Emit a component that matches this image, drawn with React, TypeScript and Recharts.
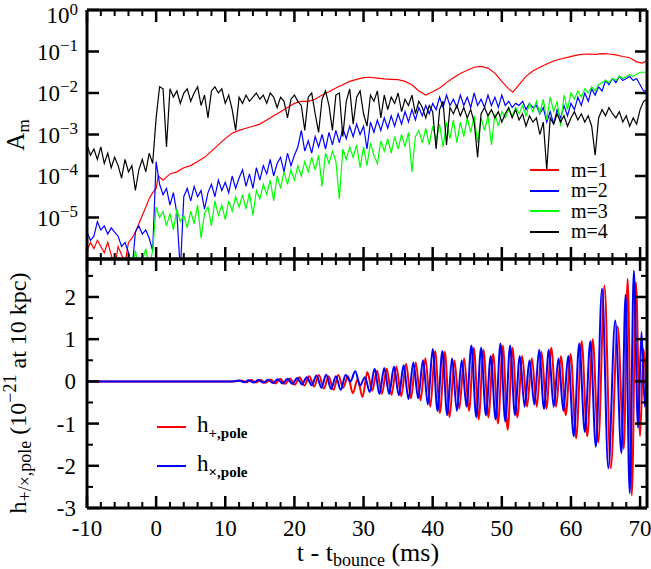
import React from "react";
import {LineChart, Line, XAxis, YAxis, Legend} from "recharts";

const FONT = "'Liberation Serif', 'DejaVu Serif', serif";

const T_START = -10;
const T_STEP = 0.5;

// log10 A_m, one row per 5 ms (10 samples), last row t = 70 .. 71
const logA2 = [
	-5.35, -5.55, -5.45, -5.1, -5.3, -5.2, -5.4, -5.25, -5.35, -5.45,
	-5.7, -5.6, -5.85, -6.3, -5.35, -5.2, -5.4, -5.3, -5.5, -5.8,
	-3.65, -4.2, -4.45, -4.3, -4.7, -4.4, -4.9, -6.3, -4.5, -4.3,
	-4.6, -4.25, -4.5, -4.35, -4.8, -4.4, -4.2, -4.5, -4.1, -4.35,
	-4.15, -4.4, -4.0, -4.3, -4.05, -3.85, -4.25, -3.95, -4.3, -3.8,
	-4.1, -3.75, -3.95, -3.6, -4.0, -3.7, -3.55, -3.9, -3.45, -3.75,
	-3.5, -3.3, -2.9, -3.4, -3.15, -3.45, -3.05, -3.3, -3.0, -3.35,
	-2.95, -3.25, -2.9, -3.2, -2.85, -3.1, -2.8, -3.05, -2.75, -3.0,
	-2.8, -3.35, -2.7, -2.95, -2.65, -2.9, -2.6, -2.85, -2.55, -2.8,
	-2.5, -2.75, -2.45, -2.7, -2.4, -2.65, -2.35, -2.55, -2.3, -2.5,
	-2.25, -2.4, -2.1, -2.35, -2.05, -2.3, -2.15, -2.35, -2.05, -2.3,
	-2.1, -2.35, -2.0, -2.3, -2.15, -2.35, -2.05, -2.3, -2.1, -2.35,
	-2.05, -2.3, -2.2, -2.35, -2.25, -2.3, -2.2, -2.4, -2.25, -2.35,
	-2.3, -2.5, -2.35, -2.7, -2.45, -2.75, -2.4, -2.6, -2.3, -2.55,
	-2.25, -2.4, -2.1, -2.3, -2.0, -2.2, -1.9, -2.05, -1.85, -1.95,
	-1.7, -1.8, -1.65, -1.75, -1.6, -1.7, -1.65, -1.6, -1.7, -1.65,
	-1.8, -1.95, -1.95,
];

const logA3 = [
	-6.3, -6.3, -6.0, -6.3, -6.3, -6.05, -6.3, -6.3, -6.3, -6.0,
	-6.3, -6.3, -6.0, -6.3, -5.8, -6.3, -6.05, -5.75, -6.2, -5.8,
	-4.75, -5.0, -4.85, -5.2, -4.9, -5.3, -4.8, -5.1, -4.95, -5.25,
	-4.85, -5.15, -4.7, -5.5, -4.9, -4.75, -5.2, -4.6, -4.95, -4.7,
	-5.05, -4.6, -4.85, -4.5, -4.75, -4.45, -4.8, -4.4, -4.95, -4.35,
	-4.55, -4.2, -4.45, -4.1, -4.6, -4.0, -4.3, -3.9, -4.2, -3.85,
	-4.1, -3.75, -4.0, -3.65, -3.9, -3.55, -3.85, -3.5, -4.25, -3.45,
	-3.7, -3.4, -3.65, -4.55, -3.35, -3.6, -3.3, -3.55, -3.25, -3.8,
	-3.3, -3.75, -3.2, -3.5, -3.7, -3.15, -3.4, -3.1, -3.45, -3.05,
	-3.35, -3.0, -3.3, -2.95, -3.9, -3.05, -2.9, -3.2, -2.85, -3.25,
	-2.8, -3.15, -2.75, -3.3, -2.7, -3.1, -2.65, -3.2, -2.7, -3.05,
	-2.6, -2.95, -2.55, -3.2, -2.6, -2.9, -2.55, -3.25, -2.5, -2.8,
	-2.45, -2.6, -2.4, -2.55, -2.35, -2.5, -2.3, -2.55, -2.25, -2.45,
	-2.2, -2.5, -2.15, -2.65, -2.1, -2.45, -2.2, -2.8, -2.05, -2.4,
	-2.0, -2.15, -1.95, -2.1, -1.9, -2.0, -1.85, -1.95, -1.8, -1.75,
	-1.7, -1.75, -1.65, -1.7, -1.6, -1.65, -1.6, -1.55, -1.6, -1.55,
	-1.5, -1.5, -1.5,
];

const logA4 = [
	-3.25, -3.5, -3.35, -3.6, -3.3, -3.7, -3.45, -3.8, -3.55, -3.75,
	-4.05, -3.6, -3.9, -3.75, -4.35, -3.85, -3.6, -3.9, -3.45, -3.7,
	-2.6, -1.85, -1.9, -3.3, -1.9, -2.1, -1.95, -2.25, -2.0, -1.9,
	-2.2, -2.0, -1.85, -2.3, -2.05, -2.6, -1.95, -1.85, -2.0, -1.9,
	-2.25, -2.05, -2.4, -2.9, -2.1, -2.25, -2.05, -2.2, -2.1, -2.0,
	-2.15, -2.05, -2.25, -2.0, -2.1, -2.35, -2.1, -2.2, -2.6, -2.15,
	-2.05, -2.2, -2.3, -2.9, -2.1, -2.0, -2.5, -2.95, -2.15, -1.95,
	-2.3, -2.9, -2.05, -2.0, -3.05, -2.2, -1.9, -2.75, -2.1, -1.95,
	-2.5, -2.8, -2.05, -2.2, -1.95, -2.6, -2.05, -2.4, -2.1, -2.25,
	-2.0, -2.45, -2.15, -2.3, -2.05, -2.5, -2.2, -2.35, -2.6, -2.3,
	-2.45, -3.35, -2.4, -2.2, -3.25, -2.35, -2.5, -2.3, -2.55, -2.35,
	-2.6, -2.4, -2.7, -3.55, -2.5, -2.35, -2.55, -2.4, -2.6, -2.45,
	-2.7, -2.5, -2.35, -2.6, -2.4, -2.65, -2.5, -2.8, -2.55, -2.7,
	-2.6, -3.0, -2.7, -3.85, -2.6, -2.75, -2.5, -2.7, -2.55, -2.8,
	-2.6, -2.45, -2.65, -2.5, -2.7, -2.55, -2.8, -3.5, -2.6, -2.4,
	-2.55, -2.35, -2.5, -2.6, -2.45, -2.7, -2.55, -2.8, -2.6, -2.75,
	-2.4, -2.2, -2.15,
];

// m=1 is smooth, read at its own times: [t, log10 A_1]
const logA1 = [
	[-10, -5.8], [-9.5, -5.6], [-9, -5.75], [-8.5, -5.55], [-8, -5.7], [-7.5, -5.85], [-7, -5.6],
	[-6.5, -5.9], [-6, -6.2], [-5.5, -5.7], [-5, -5.9], [-4.5, -6.1], [-4, -5.6], [-3.5, -5.5],
	[-3, -5.35], [-2.5, -5.15], [-2, -4.95], [-1.5, -4.75], [-1, -4.55], [-0.5, -4.4], [0, -4.3],
	[0.3, -4.0], [1, -4.1], [2, -3.95], [3, -3.9], [4, -3.8], [5, -3.75], [6, -3.65], [7, -3.55],
	[8, -3.4], [9, -3.25], [10, -3.1], [11, -2.97], [12, -2.9], [13, -2.85], [14, -2.8], [15, -2.75],
	[16, -2.65], [17, -2.55], [18, -2.45], [19, -2.35], [20, -2.25], [21, -2.2], [22, -2.2],
	[23, -2.15], [24, -2.05], [25, -1.97], [26, -1.88], [27, -1.8], [28, -1.72], [29, -1.67],
	[30, -1.63], [31, -1.62], [32, -1.64], [33, -1.66], [34, -1.67], [35, -1.68], [36, -1.72],
	[37, -1.8], [38, -1.95], [39, -2.05], [40, -1.97], [41, -1.88], [42, -1.75], [43, -1.63],
	[44, -1.53], [45, -1.45], [46, -1.38], [47, -1.36], [48, -1.4], [49, -1.52], [50, -1.72],
	[51, -1.9], [51.6, -1.98], [52.5, -1.8], [53.5, -1.6], [54.5, -1.47], [55.5, -1.38],
	[56.5, -1.3], [57.5, -1.23], [58.5, -1.18], [59.5, -1.14], [60.5, -1.1], [61.5, -1.07],
	[62.5, -1.06], [63.5, -1.07], [64.5, -1.05], [65.5, -1.06], [66.5, -1.08], [67.5, -1.12],
	[68.5, -1.15], [69.5, -1.25], [70.3, -1.28], [71, -1.22],
];

// strain at the pole, extrema: [t, h / 1e-21]
const hPlus = [
	[-10, 0], [11.3, 0], [12.35, 0.02], [13.05, -0.02], [13.75, 0.03], [14.45, -0.025],
	[15.15, 0.035], [15.85, -0.035], [16.55, 0.045], [17.25, -0.05], [17.95, 0.06], [18.65, -0.06],
	[19.35, 0.07], [20.05, -0.08], [20.75, 0.1], [21.45, -0.1], [22.15, 0.12], [22.85, -0.12],
	[23.55, 0.15], [24.25, -0.17], [24.95, 0.12], [25.65, -0.2], [26.35, 0.15], [27.05, -0.15],
	[27.75, 0.12], [28.45, -0.28], [29.15, 0.05], [29.85, -0.37], [30.55, 0.22], [31.25, -0.22],
	[31.95, 0.25], [32.65, -0.3], [33.35, 0.3], [34.05, -0.32], [34.75, 0.35], [35.45, -0.35],
	[36.15, 0.42], [36.85, -0.4], [37.55, 0.45], [38.25, -0.45], [38.95, 0.55], [39.65, -0.6],
	[40.35, 0.72], [41.05, -0.75], [41.75, 0.7], [42.45, -0.85], [43.15, 0.5], [43.85, -0.65],
	[44.55, 0.55], [45.25, -0.7], [45.95, 0.8], [46.65, -0.9], [47.35, 0.75], [48.05, -0.85],
	[48.75, 0.65], [49.45, -1.0], [50.15, 0.85], [50.85, -1.15], [51.55, 0.8], [52.25, -0.85],
	[52.95, 0.6], [53.65, -0.6], [54.35, 0.55], [55.05, -0.6], [55.75, 0.7], [56.45, -0.65],
	[57.15, 0.8], [57.85, -0.6], [58.55, 0.6], [59.25, -0.8], [59.95, 0.65], [60.75, -1.35],
	[61.55, 0.95], [62.35, -1.3], [63.15, 1.0], [63.95, -1.45], [64.85, 2.27], [65.75, -2.06],
	[66.75, 1.3], [67.65, -1.6], [68.2, 2.43], [68.8, -2.7], [69.4, 2.35], [70.0, -1.3],
	[70.5, 0.77], [71.0, -1.0],
];

const hCross = [
	[-10, 0], [11, 0], [12.0, 0.02], [12.7, -0.02], [13.4, 0.025], [14.1, -0.025], [14.8, 0.03],
	[15.5, -0.03], [16.2, 0.04], [16.9, -0.04], [17.6, 0.05], [18.3, -0.05], [19.0, 0.06],
	[19.7, -0.06], [20.4, 0.08], [21.1, -0.07], [21.8, 0.1], [22.5, -0.09], [23.2, 0.14],
	[23.9, -0.15], [24.6, 0.16], [25.3, -0.18], [26.0, 0.12], [26.7, -0.2], [27.4, 0.15],
	[28.1, 0.0], [28.8, 0.24], [29.5, -0.1], [30.2, 0.1], [30.9, -0.25], [31.6, 0.3], [32.3, -0.3],
	[33.0, 0.32], [33.7, -0.3], [34.4, 0.35], [35.1, -0.33], [35.8, 0.38], [36.5, -0.42],
	[37.2, 0.45], [37.9, -0.4], [38.6, 0.5], [39.3, -0.55], [40.0, 0.77], [40.7, -0.7],
	[41.4, 0.72], [42.1, -0.8], [42.8, 0.55], [43.5, -0.7], [44.2, 0.5], [44.9, -0.6],
	[45.6, 0.85], [46.3, -0.85], [47.0, 0.8], [47.7, -0.8], [48.4, 0.6], [49.1, -0.9],
	[49.8, 0.9], [50.5, -0.95], [51.2, 0.85], [51.9, -0.8], [52.6, 0.6], [53.3, -0.6],
	[54.0, 0.5], [54.7, -0.55], [55.4, 0.75], [56.1, -0.65], [56.8, 0.75], [57.5, -0.6],
	[58.2, 0.55], [58.9, -0.7], [59.6, 0.6], [60.4, -1.3], [61.2, 0.9], [62.0, -1.2],
	[62.8, 0.95], [63.6, -1.55], [64.5, 2.2], [65.4, -2.06], [66.4, 1.44], [67.3, -1.7],
	[67.9, 2.05], [68.5, -2.65], [69.1, 2.62], [69.7, -1.1], [70.2, 1.17], [70.7, -0.6],
	[71.0, 0.0],
];

const xTicks = [-10, -8, -6, -4, -2, 0, 2, 4, 6, 8, 10, 12, 14, 16, 18, 20, 22, 24, 26, 28, 30,
	32, 34, 36, 38, 40, 42, 44, 46, 48, 50, 52, 54, 56, 58, 60, 62, 64, 66, 68, 70];
const aTicks = [1e-6, 1e-5, 1e-4, 1e-3, 1e-2, 1e-1, 1];
const hTicks = [-3, -2.5, -2, -1.5, -1, -0.5, 0, 0.5, 1, 1.5, 2, 2.5];

const gridTable = logA2.map((e, i) => ({
	t: T_START + i * T_STEP,
	m2: Math.pow(10, e),
	m3: Math.pow(10, logA3[i]),
	m4: Math.pow(10, logA4[i]),
}));
const m1Table = logA1.map(([t, e]) => ({t, m1: Math.pow(10, e)}));
const plusTable = hPlus.map(([t, v]) => ({t, v}));
const crossTable = hCross.map(([t, v]) => ({t, v}));

// inward ticks: dir says which way the tick grows from the axis line
const xTick = (dir: number, withLabel: boolean) => (p: any) => {
	const {x, y, payload} = p;
	const major = payload.value % 10 === 0;
	return <g>
		<line x1={x} x2={x} y1={y} y2={y + dir * (major ? 12 : 6)} stroke="#000" strokeWidth={major ? 2.5 : 2}/>
		{withLabel && major ? <text x={x} y={y + 28} textAnchor="middle" fontSize={23} fontFamily={FONT}>{payload.value}</text> : null}
	</g>
};

const logTick = (dir: number, withLabel: boolean) => (p: any) => {
	const {x, y, payload} = p;
	const exp = Math.round(Math.log10(payload.value));
	// 10^0 sits on the top edge of the page, so it is nudged down a little
	const base = exp === 0 ? y + 13 : y + 8;
	return <g>
		<line x1={x} x2={x + dir * 12} y1={y} y2={y} stroke="#000" strokeWidth={2.5}/>
		{withLabel && exp > -6 ? <text x={x - 9} y={base} textAnchor="end" fontSize={23} fontFamily={FONT}>
			10<tspan dy={exp === 0 ? -8 : -9} fontSize={17}>{exp === 0 ? "0" : "\u2212" + Math.abs(exp)}</tspan>
		</text> : null}
	</g>
};

const hTick = (dir: number, withLabel: boolean) => (p: any) => {
	const {x, y, payload} = p;
	const major = Number.isInteger(payload.value);
	return <g>
		<line x1={x} x2={x + dir * (major ? 12 : 6)} y1={y} y2={y} stroke="#000" strokeWidth={major ? 2.5 : 2}/>
		{withLabel && major ? <text x={x - 11} y={y + 8} textAnchor="end" fontSize={23} fontFamily={FONT}>{payload.value}</text> : null}
	</g>
};

const axisLine = {stroke: "#000", strokeWidth: 3};

const topLegend = (props: any) => <div style={{fontFamily: FONT, fontSize: 20}}>
	{(props.payload || []).map((e: any) => <div key={e.value} style={{display: "flex", alignItems: "center", height: 20.5}}>
		<span style={{display: "inline-block", width: 29, borderTop: `2px solid ${e.color}`}}/>
		<span style={{marginLeft: 12}}>{e.value}</span>
	</div>)}
</div>;

const bottomLegend = (props: any) => <div style={{fontFamily: FONT, fontSize: 23}}>
	{(props.payload || []).map((e: any) => <div key={e.value} style={{display: "flex", alignItems: "center", height: 39}}>
		<span style={{display: "inline-block", width: 29, borderTop: `2px solid ${e.color}`}}/>
		<span style={{marginLeft: 11}}>h<sub style={{fontSize: 15, fontWeight: "bold"}}>{e.value.slice(1)}</sub></span>
	</div>)}
</div>;

// axes are 1px deep (a 0px axis is not drawn), so the plot box is 87..647 px across
const xAxisProps = {dataKey: "t", type: "number" as const, domain: [-10, 71], allowDataOverflow: true, ticks: xTicks,
	interval: 0, height: 1, tickSize: 0, tickMargin: 0, tickLine: false, axisLine};
const yAxisProps = {type: "number" as const, allowDataOverflow: true, interval: 0, width: 1, tickSize: 0, tickMargin: 0,
	tickLine: false, axisLine};

export default function App() {
	return <div style={{position: "absolute", left: 0, top: 0, width: 651, height: 569, background: "#fff"}}>
		<div style={{position: "absolute", left: 0, top: 0}}>
			<LineChart width={651} height={269} data={gridTable} margin={{top: 9, right: 3, bottom: 9, left: 86}}>
				<XAxis {...xAxisProps} tick={xTick(-1, false)}/>
				<XAxis {...xAxisProps} xAxisId="top" orientation="top" tick={xTick(1, false)}/>
				<YAxis {...yAxisProps} scale="log" domain={[1e-6, 1]} ticks={aTicks} tick={logTick(1, true)}/>
				<YAxis {...yAxisProps} yAxisId="right" orientation="right" scale="log" domain={[1e-6, 1]} ticks={aTicks}
							 tick={logTick(-1, false)}/>
				<Line data={m1Table} dataKey="m1" name="m=1" stroke="#ff0000" strokeWidth={1.2} dot={false} isAnimationActive={false}/>
				<Line dataKey="m2" name="m=2" stroke="#0000ff" strokeWidth={1.2} dot={false} isAnimationActive={false}/>
				<Line dataKey="m3" name="m=3" stroke="#00ff00" strokeWidth={1.2} dot={false} isAnimationActive={false}/>
				<Line dataKey="m4" name="m=4" stroke="#000000" strokeWidth={1.2} dot={false} isAnimationActive={false}/>
				<Legend layout="horizontal" verticalAlign="middle" align="center" content={topLegend}
								wrapperStyle={{left: 530, top: 160, width: 110}}/>
			</LineChart>
		</div>
		<div style={{position: "absolute", left: 0, top: 249}}>
			<LineChart width={651} height={320} margin={{top: 9, right: 3, bottom: 60, left: 86}}>
				<XAxis {...xAxisProps} tick={xTick(-1, true)}/>
				<XAxis {...xAxisProps} xAxisId="top" orientation="top" tick={xTick(1, false)}/>
				<YAxis {...yAxisProps} domain={[-3, 2.9]} ticks={hTicks} tick={hTick(1, true)}/>
				<YAxis {...yAxisProps} yAxisId="right" orientation="right" domain={[-3, 2.9]} ticks={hTicks} tick={hTick(-1, false)}/>
				<Line data={plusTable} dataKey="v" name="h+,pole" type="monotone" stroke="#ff0000" strokeWidth={2} dot={false} isAnimationActive={false}/>
				<Line data={crossTable} dataKey="v" name="h×,pole" type="monotone" stroke="#0000ff" strokeWidth={2} dot={false} isAnimationActive={false}/>
				<Legend layout="horizontal" verticalAlign="middle" align="center" content={bottomLegend}
								wrapperStyle={{left: 157, top: 158, width: 160}}/>
			</LineChart>
		</div>
		<svg width={651} height={569} style={{position: "absolute", left: 0, top: 0, pointerEvents: "none"}} fontFamily={FONT}>
			<text transform="translate(24,135) rotate(-90)" textAnchor="middle" fontSize={25}>
				A<tspan dy={5} fontSize={17}>m</tspan>
			</text>
			<text transform="translate(26,393) rotate(-90)" textAnchor="middle" fontSize={24}>
				h<tspan dy={5} fontSize={18}>+/×,pole</tspan><tspan dy={-5}> (10</tspan><tspan dy={-10} fontSize={18}>−21</tspan><tspan dy={10}> at 10 kpc)</tspan>
			</text>
			<text x={368} y={561} textAnchor="middle" fontSize={26}>
				t - t<tspan dy={5} fontSize={18}>bounce</tspan><tspan dy={-5}> (ms)</tspan>
			</text>
		</svg>
	</div>;
}
